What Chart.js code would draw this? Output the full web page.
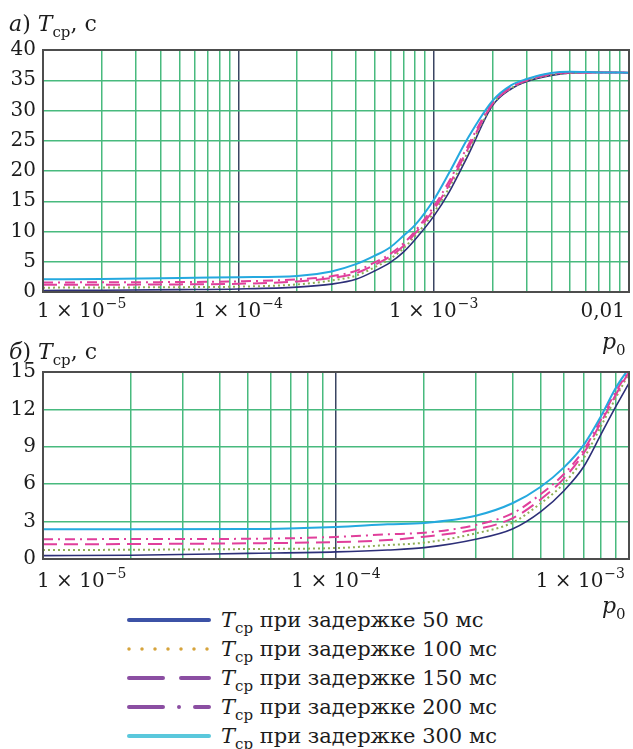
<!DOCTYPE html>
<html>
<head>
<meta charset="utf-8">
<script src="https://cdn.jsdelivr.net/npm/chart.js@4"></script>
<style>
  body { margin: 0; width: 633px; height: 749px; background: #fff; position: relative; overflow: hidden;
         font-family: "DejaVu Serif", serif; color: #1c1c1c; }
  .cv { position: absolute; left: 0; }
  .txt { position: absolute; font-size: 22px; line-height: 22px; white-space: nowrap; }
  .txt i { font-style: italic; }
  .txt sub { font-size: 15px; vertical-align: -6px; line-height: 0; }
  #legend { position: absolute; left: 126px; top: 605px; }
  .row { height: 29px; display: flex; align-items: center; }
  .row svg { width: 86px; height: 12px; margin-right: 9px; }
  .row span { font-size: 21px; white-space: nowrap; }
  .row sub { font-size: 15px; vertical-align: -6px; line-height: 0; }
</style>
</head>
<body>
<canvas id="chartA" class="cv" style="top:0" width="633" height="330"></canvas>
<canvas id="chartB" class="cv" style="top:330px" width="633" height="270"></canvas>

<div class="txt" style="left:9px;top:13px"><i>а</i>) <i>T</i><sub>ср</sub>, с</div>
<div class="txt" style="left:9px;top:341px"><i>б</i>) <i>T</i><sub>ср</sub>, с</div>
<div class="txt" style="left:602px;top:331px"><i>p</i><sub>0</sub></div>
<div class="txt" style="left:602px;top:595px"><i>p</i><sub>0</sub></div>

<div id="legend"></div>

<script>
// === ДАННЫЕ: панель а) ===
const pA = [1e-5, 2e-5, 5e-5, 1e-4, 2e-4, 3e-4, 4e-4, 5e-4, 6e-4, 7e-4, 8e-4, 1e-3, 1.2e-3, 1.5e-3, 2e-3, 2.5e-3, 3e-3, 4e-3, 5e-3, 7e-3, 1e-2];
const a50  = [0.25, 0.3, 0.4, 0.5, 0.8, 1.3, 2.1, 3.5, 4.9, 6.6, 8.6, 12.5, 16.5, 22.6, 30.8, 33.6, 34.8, 35.8, 36.2, 36.3, 36.25];
const a100 = [0.72, 0.74, 0.8, 0.88, 1.25, 1.9, 2.7, 4.1, 5.5, 7.2, 9.2, 13.1, 17.2, 23.2, 31.0, 33.7, 34.9, 35.9, 36.2, 36.3, 36.25];
const a150 = [1.18, 1.2, 1.26, 1.36, 1.75, 2.3, 3.1, 4.5, 5.9, 7.6, 9.6, 13.6, 17.7, 23.7, 31.1, 33.8, 35.0, 36.0, 36.3, 36.3, 36.25];
const a200 = [1.58, 1.6, 1.65, 1.76, 2.1, 2.6, 3.5, 4.9, 6.3, 8.0, 10.0, 14.1, 18.3, 24.2, 31.3, 34.0, 35.1, 36.1, 36.3, 36.3, 36.25];
const a300 = [2.1, 2.15, 2.3, 2.45, 2.65, 3.4, 4.6, 6.0, 7.4, 9.3, 11.0, 15.2, 19.7, 25.5, 31.6, 34.2, 35.2, 36.2, 36.4, 36.3, 36.25];

// === ДАННЫЕ: панель б) ===
const pB = [1e-5, 2e-5, 5e-5, 1e-4, 1.5e-4, 2e-4, 3e-4, 4e-4, 5e-4, 6e-4, 7e-4, 8e-4, 9e-4, 1e-3];
const b50  = [0.27, 0.3, 0.45, 0.57, 0.72, 0.91, 1.58, 2.4, 3.8, 5.48, 7.4, 9.94, 12.2, 14.1];
const b100 = [0.72, 0.74, 0.8, 0.88, 1.12, 1.31, 2.06, 2.91, 4.47, 6.07, 8.07, 10.6, 12.9, 14.9];
const b150 = [1.18, 1.2, 1.26, 1.36, 1.52, 1.79, 2.38, 3.26, 4.79, 6.47, 8.48, 10.9, 13.15, 15.0];
const b200 = [1.58, 1.6, 1.62, 1.77, 1.98, 2.11, 2.73, 3.66, 5.21, 6.82, 8.74, 11.15, 13.4, 15.1];
const b300 = [2.38, 2.38, 2.4, 2.57, 2.78, 2.89, 3.47, 4.47, 5.8, 7.35, 9.14, 11.4, 13.7, 15.3];

// подписи оси X (мантисса, показатель)
const tickValsA = [1e-5, 1e-4, 1e-3, 1e-2];
const tickTextA = [['1 × 10', '−5'], ['1 × 10', '−4'], ['1 × 10', '−3'], ['0,01', '']];
const tickValsB = [1e-5, 1e-4, 1e-3];
const tickTextB = [['1 × 10', '−5'], ['1 × 10', '−4'], ['1 × 10', '−3']];

const delays = ['50', '100', '150', '200', '300'];

// === СТИЛИ ===
const GRID_GREEN = '#48ba7e';
const GRID_DARK = '#3a4562';
const lineColors = ['#2d2f78', '#8fae55', '#e03f9b', '#e03f9b', '#25a9df'];
const lineDash = [[], [2, 3], [14, 7], [10, 5, 2, 5], []];
const lineWidth = [1.6, 2, 2, 2, 2];
const legendColors = ['#3c52a6', '#d6a33c', '#8b4ea2', '#8b4ea2', '#5ac8dc'];
const FONT = '"DejaVu Serif", serif';
const TXT = '#1c1c1c';

// === ПЛАГИНЫ ===
const frameAndLabels = {
    id: 'frameAndLabels',
    afterDraw(chart, args, opts) {
        const { ctx, chartArea: ca, scales } = chart;
        ctx.save();
        ctx.strokeStyle = '#4d4d4d';
        ctx.lineWidth = 2;
        ctx.strokeRect(ca.left, ca.top, ca.right - ca.left, ca.bottom - ca.top);

        // подписи оси X с верхним индексом
        ctx.fillStyle = TXT;
        ctx.textBaseline = 'alphabetic';
        opts.values.forEach((v, i) => {
            const [base, exp] = opts.texts[i];
            ctx.font = '20px ' + FONT;
            const wb = ctx.measureText(base).width;
            ctx.font = '14px ' + FONT;
            const we = exp ? ctx.measureText(exp).width + 1 : 0;
            const w = wb + we;
            const px = scales.x.getPixelForValue(v);
            let left = px - w / 2;
            if (i === 0) left = px - 6;
            if (i === opts.values.length - 1) left = px - 4 - w;
            ctx.font = '20px ' + FONT;
            ctx.fillText(base, left, opts.y);
            if (exp) {
                ctx.font = '14px ' + FONT;
                ctx.fillText(exp, left + wb + 1, opts.y - 9);
            }
        });
        ctx.restore();
    }
};

// сетка 1..9 × 10^k
function logGrid(minExp, maxExp) {
    const ticks = [];
    for (let e = minExp; e < maxExp; e++) {
        for (let m = 1; m <= 9; m++) ticks.push({ value: m * Math.pow(10, e), major: m === 1 });
    }
    ticks.push({ value: Math.pow(10, maxExp), major: true });
    return ticks;
}

function makeDatasets(xs, series) {
    return series.map((ys, i) => ({
        label: 'Tср при задержке ' + delays[i] + ' мс',
        data: xs.map((x, j) => ({ x: x, y: ys[j] })),
        borderColor: lineColors[i],
        borderWidth: lineWidth[i],
        borderDash: lineDash[i],
        pointRadius: 0,
        fill: false,
        cubicInterpolationMode: 'monotone'
    })).reverse();
}

function makeChart(id, xs, series, cfg) {
    return new Chart(document.getElementById(id), {
        type: 'line',
        data: { datasets: makeDatasets(xs, series) },
        options: {
            responsive: false,
            animation: false,
            layout: { padding: { top: cfg.padTop, right: 4, left: 0, bottom: 0 } },
            plugins: {
                legend: { display: false },
                tooltip: { enabled: false },
                frameAndLabels: { values: cfg.tickVals, texts: cfg.tickText, y: cfg.labelY }
            },
            scales: {
                x: {
                    type: 'logarithmic',
                    min: cfg.xMin, max: cfg.xMax,
                    afterBuildTicks: s => { s.ticks = logGrid(cfg.minExp, cfg.maxExp); },
                    afterFit: s => { s.height = cfg.xHeight; },
                    ticks: { display: false },
                    grid: {
                        drawTicks: false,
                        lineWidth: 1.5,
                        color: c => (c.tick && c.tick.major) ? GRID_DARK : GRID_GREEN
                    },
                    border: { display: false }
                },
                y: {
                    min: 0, max: cfg.yMax,
                    afterFit: s => { s.width = 43; },
                    ticks: { stepSize: cfg.yStep, padding: 7, color: TXT, font: { family: FONT, size: 20 } },
                    grid: { drawTicks: false, lineWidth: 1.5, color: GRID_GREEN },
                    border: { display: false }
                }
            }
        },
        plugins: [frameAndLabels]
    });
}

// === ПОСТРОЕНИЕ ===
makeChart('chartA', pA, [a50, a100, a150, a200, a300], {
    padTop: 50, xHeight: 38, labelY: 317,
    xMin: 1e-5, xMax: 1e-2, minExp: -5, maxExp: -2,
    yMax: 40, yStep: 5, tickVals: tickValsA, tickText: tickTextA
});

makeChart('chartB', pB, [b50, b100, b150, b200, b300], {
    padTop: 42, xHeight: 41, labelY: 257,
    xMin: 1e-5, xMax: 1e-3, minExp: -5, maxExp: -3,
    yMax: 15, yStep: 3, tickVals: tickValsB, tickText: tickTextB
});

// === ЛЕГЕНДА ===
function buildLegend() {
    const box = document.getElementById('legend');
    delays.forEach((d, i) => {
        const dash = [[], [0, 13], [34, 18], [34, 16, 0, 16], []][i];
        const sw = i === 1 ? 3.5 : 4;
        const row = document.createElement('div');
        row.className = 'row';
        row.innerHTML =
            `<svg viewBox="0 0 86 12"><line x1="3" y1="6" x2="83" y2="6" stroke="${legendColors[i]}" ` +
            `stroke-width="${sw}" stroke-linecap="round" stroke-dasharray="${dash.join(' ')}"/></svg>` +
            `<span><i>T</i><sub>ср</sub> при задержке ${d} мс</span>`;
        box.appendChild(row);
    });
}
buildLegend();
</script>
</body>
</html>
